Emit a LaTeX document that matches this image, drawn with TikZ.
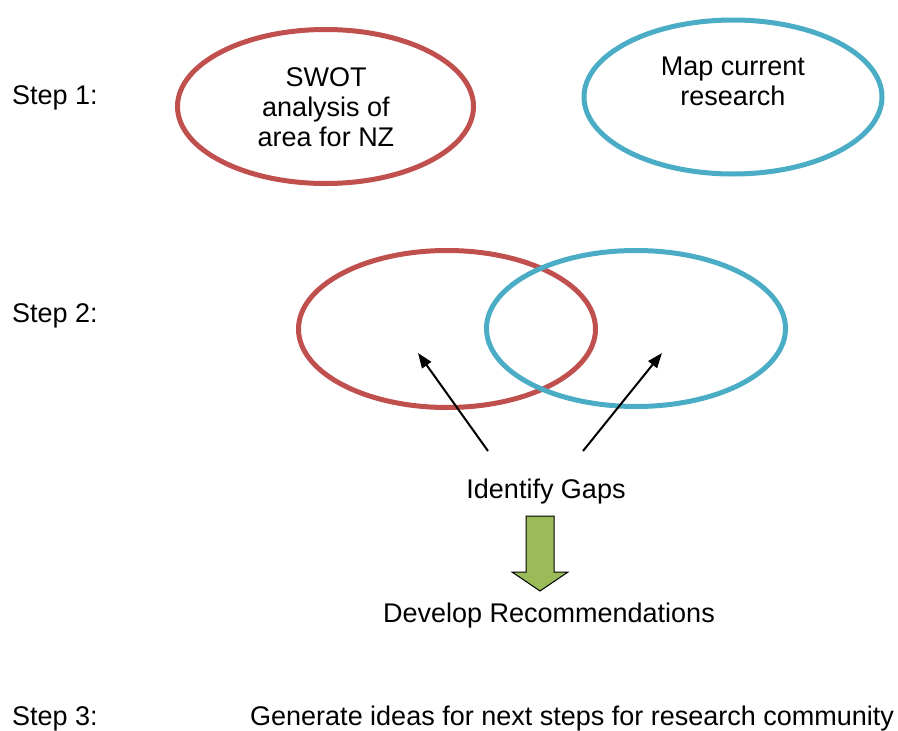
\documentclass[tikz,border=0pt]{standalone}
\usepackage{fontspec}
\setmainfont{Liberation Sans}
\usetikzlibrary{shapes.geometric,arrows.meta}
\definecolor{cred}{HTML}{C0504D}
\definecolor{cblue}{HTML}{4BACC6}
\definecolor{cgreen}{HTML}{9BBB59}
\begin{document}
\begin{tikzpicture}[x=1pt,y=-1pt,
  lbl/.style={font=\fontsize{27}{30}\selectfont, inner sep=0pt},
  ring/.style={ellipse, line width=5pt, inner sep=0pt},
  ptr/.style={line width=2pt, -{Triangle[length=15pt,width=11pt]}}]
\useasboundingbox (0,0) rectangle (898,731);
% Step labels
\node[lbl, anchor=base west] (s1) at (12,104) {Step 1:};
\node[lbl, anchor=base west] (s2) at (12,322) {Step 2:};
\node[lbl, anchor=base west] (s3) at (12,725) {Step 3:};
% Step 1
\node[ring, draw=cred, minimum width=296pt, minimum height=154pt] (swot) at (325.5,106.5) {};
\node[lbl, align=center] (swott) at (326,107) {SWOT\\analysis of\\area for NZ};
\node[ring, draw=cblue, minimum width=298pt, minimum height=154pt] (map) at (733,97) {};
\node[lbl, align=center] (mapt) at (733,81) {Map current\\research};
% Step 2
\node[ring, draw=cred, minimum width=297pt, minimum height=157pt] (r2) at (447,329) {};
\node[ring, draw=cblue, minimum width=299pt, minimum height=156pt] (b2) at (636,328.5) {};
\node[lbl] (gaps) at (546,492) {Identify Gaps};
\coordinate (la) at (488,451);
\coordinate (lt) at (418,353);
\coordinate (ra) at (583,451);
\coordinate (rt) at (662,353);
\draw[ptr] (la) -- (lt);
\draw[ptr] (ra) -- (rt);
% block arrow
\draw[fill=cgreen, line width=1pt]
  (526,516) -- (554,516) -- (554,572) -- (568,572) -- (540,591) -- (512,572) -- (526,572) -- cycle;
\node[lbl] (dev) at (549,616) {Develop Recommendations};
\node[lbl, anchor=base west] (gen) at (250,725) {Generate ideas for next steps for research community};
\end{tikzpicture}
\end{document}
